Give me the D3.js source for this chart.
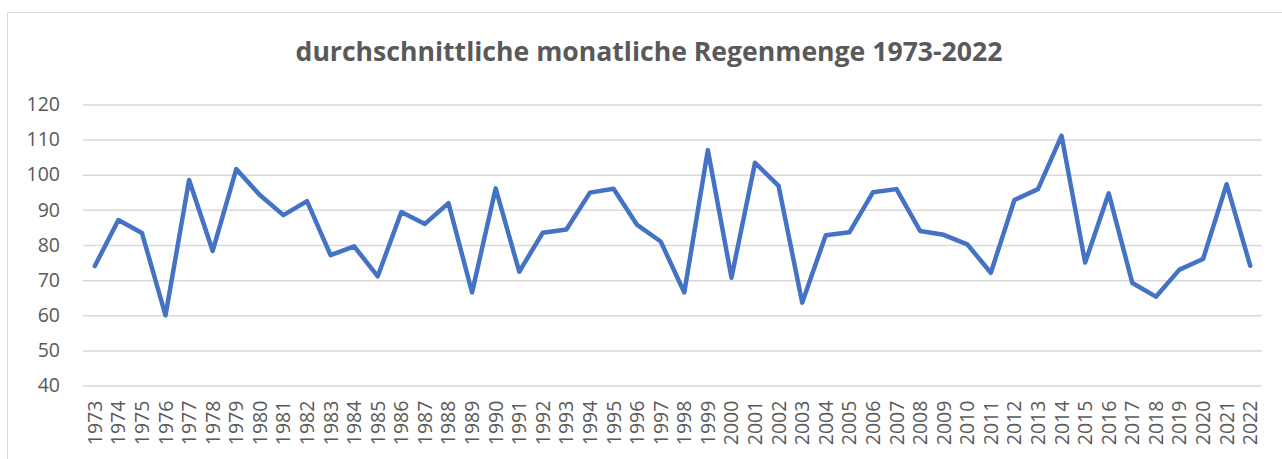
<!DOCTYPE html>
<html>
<head>
<meta charset="utf-8">
<script src="https://cdn.jsdelivr.net/npm/d3@7"></script>
<style>
  body { margin: 0; background: #fff; }
  svg { display: block; font-family: "Open Sans", "Liberation Sans", sans-serif; }
</style>
</head>
<body>
<div class="container"></div>
<script>
// Data
const years = d3.range(1973, 2023).map(String);
const rain = [74.0, 87.1, 83.4, 60.0, 98.5, 78.3, 101.6, 94.2, 88.5, 92.5,
              77.1, 79.6, 71.1, 89.4, 86.0, 91.9, 66.5, 96.1, 72.4, 83.5,
              84.4, 94.9, 96.0, 85.7, 81.0, 66.5, 107.0, 70.7, 103.4, 96.8,
              63.6, 82.8, 83.6, 95.0, 95.9, 84.0, 82.9, 80.2, 72.1, 92.8,
              95.9, 111.1, 75.0, 94.7, 69.2, 65.3, 73.0, 76.0, 97.3, 74.1];
const yTicks = [40, 50, 60, 70, 80, 90, 100, 110, 120];
const title = "durchschnittliche monatliche Regenmenge 1973-2022";

// Dimensions
const w = 1282;
const h = 459;
const plotL = 83, plotR = 1262, plotT = 104.4, plotB = 385.6;

const svg = d3.select(".container")
  .append("svg")
  .attr("width", w)
  .attr("height", h);

// chart frame
svg.append("rect")
  .attr("x", 7.5).attr("y", 12.5)
  .attr("width", w).attr("height", h)
  .attr("fill", "none")
  .attr("stroke", "#d9d9d9")
  .attr("stroke-width", 1);

// Scales
const xScale = d3.scaleBand().domain(years).range([plotL, plotR]);
const yScale = d3.scaleLinear().domain([40, 120]).range([plotB, plotT]);

// Gridlines + y labels
const yAxis = d3.axisLeft(yScale).tickValues(yTicks).tickSize(-(plotR - plotL)).tickPadding(23);
const gy = svg.append("g")
  .attr("transform", `translate(${plotL},0)`)
  .call(yAxis);
gy.select(".domain").remove();
gy.selectAll(".tick line").attr("stroke", "#d9d9d9").attr("stroke-width", 1.5);
gy.selectAll(".tick text")
  .attr("fill", "#595959")
  .style("font-size", "19.5px")
  .style("font-family", "Open Sans, sans-serif");

// x labels
const xAxis = d3.axisBottom(xScale).tickSize(0).tickPadding(0);
const gx = svg.append("g")
  .attr("transform", `translate(0,${plotB})`)
  .call(xAxis);
gx.select(".domain").remove();
gx.selectAll(".tick text")
  .attr("fill", "#595959")
  .style("font-size", "19.5px")
  .style("font-family", "Open Sans, sans-serif")
  .attr("text-anchor", "end")
  .attr("dy", null)
  .attr("y", 0)
  .attr("transform", "translate(7,15) rotate(-90)");

// Line
const line = d3.line()
  .x((d, i) => xScale(years[i]) + xScale.bandwidth() / 2)
  .y(d => yScale(d));

svg.append("path")
  .datum(rain)
  .attr("d", line)
  .attr("fill", "none")
  .attr("stroke", "#4472C4")
  .attr("stroke-width", 4.5)
  .attr("stroke-linejoin", "round")
  .attr("stroke-linecap", "round");

// Title
svg.append("text")
  .attr("x", 649)
  .attr("y", 61)
  .attr("text-anchor", "middle")
  .attr("fill", "#595959")
  .style("font-size", "26.6px")
  .style("font-weight", "bold")
  .text(title);
</script>
</body>
</html>
